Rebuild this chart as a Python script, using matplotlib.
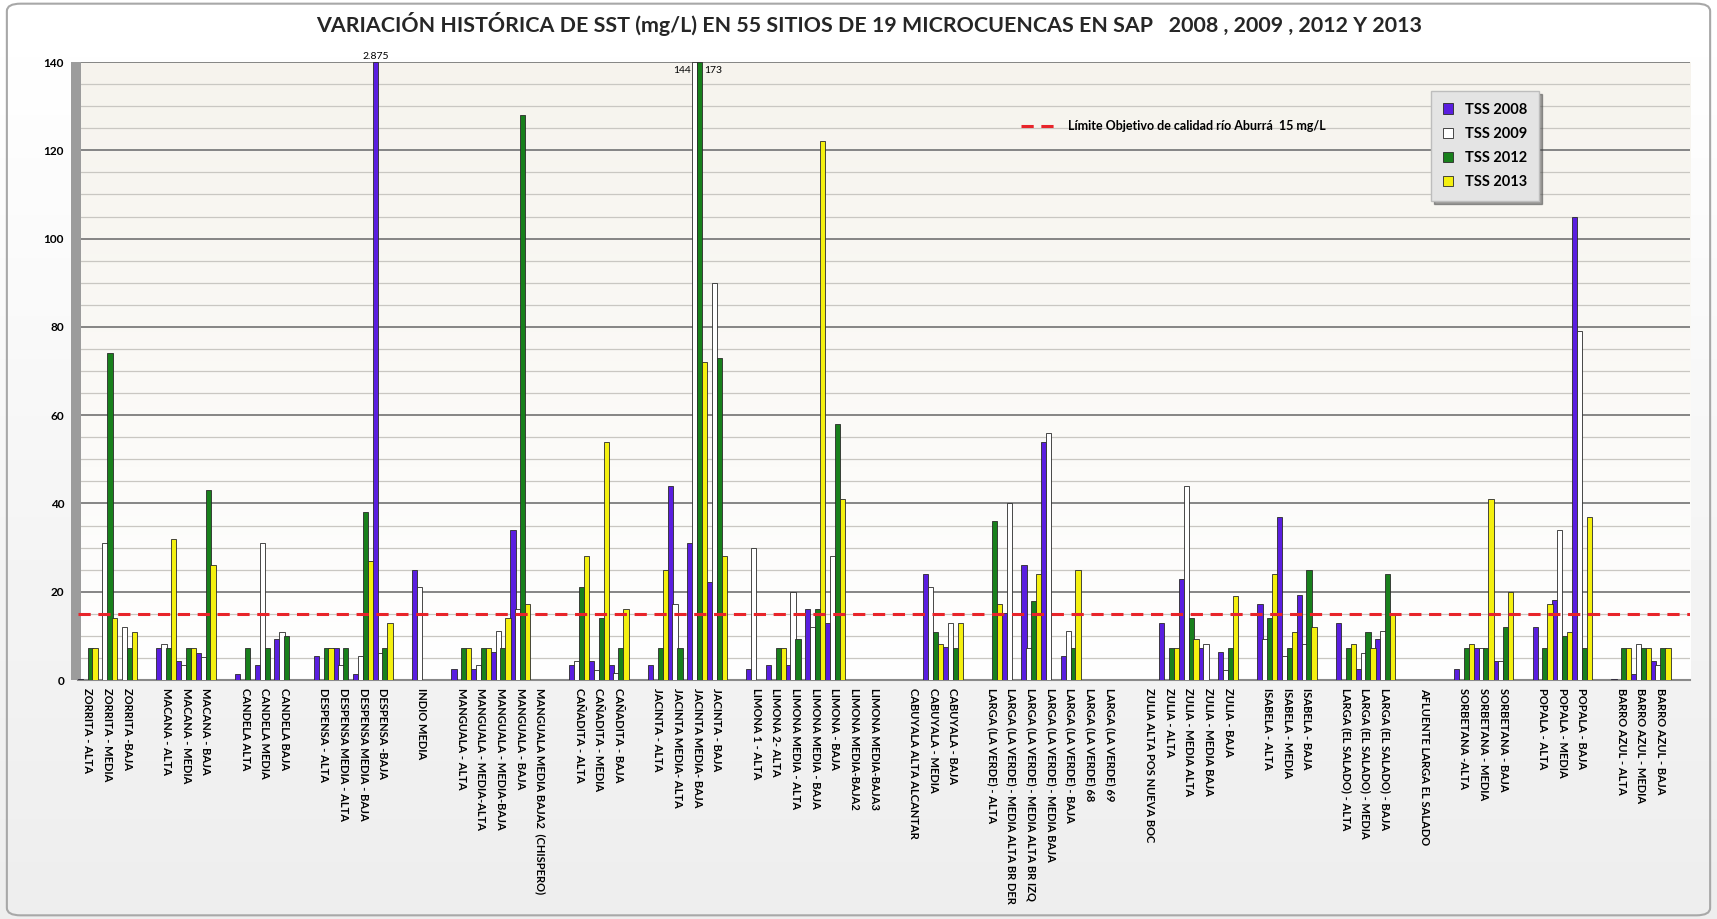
import numpy as np
import matplotlib
matplotlib.use('Agg')
import matplotlib.pyplot as plt
from matplotlib.lines import Line2D
from matplotlib.patches import Rectangle, FancyBboxPatch

# sitios (55 con datos + sitios sin muestra), agrupados por microcuenca
groups = [
    ['ZORRITA - ALTA', 'ZORRITA - MEDIA', 'ZORRITA -BAJA'],
    ['MACANA - ALTA', 'MACANA - MEDIA', 'MACANA - BAJA'],
    ['CANDELA ALTA', 'CANDELA MEDIA', 'CANDELA BAJA'],
    ['DESPENSA - ALTA', 'DESPENSA MEDIA - ALTA', 'DESPENSA MEDIA - BAJA', 'DESPENSA -BAJA'],
    ['INDIO MEDIA'],
    ['MANGUALA - ALTA', 'MANGUALA - MEDIA-ALTA', 'MANGUALA - MEDIA-BAJA', 'MANGUALA - BAJA',
     'MANGUALA MEDIA BAJA2  (CHISPERO)'],
    ['CAÑADITA - ALTA', 'CAÑADITA - MEDIA', 'CAÑADITA - BAJA'],
    ['JACINTA - ALTA', 'JACINTA MEDIA- ALTA', 'JACINTA MEDIA- BAJA', 'JACINTA - BAJA'],
    ['LIMONA 1 - ALTA', 'LIMONA 2- ALTA', 'LIMONA MEDIA - ALTA', 'LIMONA MEDIA - BAJA',
     'LIMONA - BAJA', 'LIMONA MEDIA-BAJA2', 'LIMONA MEDIA-BAJA3'],
    ['CABUYALA ALTA ALCANTAR', 'CABUYALA - MEDIA', 'CABUYALA - BAJA'],
    ['LARGA (LA VERDE) - ALTA', 'LARGA (LA VERDE) - MEDIA ALTA BR DER',
     'LARGA (LA VERDE) - MEDIA ALTA BR IZQ', 'LARGA (LA VERDE) - MEDIA BAJA',
     'LARGA (LA VERDE) - BAJA', 'LARGA (LA VERDE) 68', 'LARGA (LA VERDE) 69'],
    ['ZULIA ALTA POS NUEVA BOC', 'ZULIA - ALTA', 'ZULIA - MEDIA ALTA', 'ZULIA - MEDIA BAJA',
     'ZULIA - BAJA'],
    ['ISABELA - ALTA', 'ISABELA - MEDIA', 'ISABELA - BAJA'],
    ['LARGA (EL SALADO) - ALTA', 'LARGA (EL SALADO) - MEDIA', 'LARGA (EL SALADO) - BAJA'],
    ['AFLUENTE LARGA EL SALADO'],
    ['SORBETANA -ALTA', 'SORBETANA - MEDIA', 'SORBETANA - BAJA'],
    ['POPALA - ALTA', 'POPALA - MEDIA', 'POPALA - BAJA'],
    ['BARRO AZUL - ALTA', 'BARRO AZUL - MEDIA', 'BARRO AZUL - BAJA'],
]

tss_2008 = [0.3, 0, 0, 7.2, 4.3, 6.2, 1.3, 3.4, 9.2,
            5.4, 7.2, 1.3, 2875, 25, 2.4, 2.4, 6.3, 34, 0,
            3.4, 4.3, 3.4, 3.4, 44, 31, 22.2,
            2.4, 3.4, 3.4, 16, 13, 0, 0, 0, 24, 7.5,
            0, 15.1, 26, 54, 5.4, 0, 0, 0, 13, 23, 7.3, 6.3,
            17.2, 37, 19.2, 13, 2.4, 9.2, 0, 2.4, 7.2, 4.3,
            12.1, 18.1, 105, 0.2, 1.3, 4.3]
tss_2009 = [0, 31, 12, 8.2, 3.4, 5.2, 0, 31, 11,
            0, 3.4, 5.4, 6.2, 21, 0, 3.4, 11.2, 16, 0,
            4.3, 2.2, 1.5, 0, 17.2, 144, 90,
            30, 0, 20, 12, 28, 0, 0, 0, 21, 13,
            0, 40, 7.3, 56, 11.2, 0, 0, 0, 0, 44, 8.2, 2.2,
            9.2, 5.4, 8.2, 0, 6.2, 11.2, 0, 0, 7.2, 4.3,
            0, 34, 79, 0, 8.2, 3.4]
tss_2012 = [7.2, 74, 7.2, 7.2, 7.2, 43, 7.2, 7.2, 10,
            7.2, 7.2, 38, 7.2, 0, 7.2, 7.2, 7.2, 128, 0,
            21, 14, 7.2, 7.2, 7.2, 173, 73,
            0, 7.2, 9.2, 16, 58, 0, 0, 0, 11, 7.2,
            36, 0, 18, 0, 7.2, 0, 0, 0, 7.2, 14, 0, 7.2,
            14, 7.2, 25, 7.2, 11, 24, 0, 7.2, 7.2, 12,
            7.2, 10, 7.2, 7.2, 7.2, 7.2]
tss_2013 = [7.2, 14, 11, 32, 7.2, 26, 0, 0, 0,
            7.2, 0, 27, 13, 0, 7.2, 7.2, 14, 17.2, 0,
            28, 54, 16, 25, 0, 72, 28,
            0, 7.2, 0, 122, 41, 0, 0, 0, 8.2, 13,
            17.2, 0, 24, 0, 25, 0, 0, 0, 7.2, 9.2, 0, 19,
            24, 11, 12, 8.2, 7.2, 15, 0, 8.2, 41, 20,
            17.2, 11, 37, 7.2, 7.2, 7.2]

limite = 15
series = [('TSS 2008', tss_2008, '#5a1ee0'), ('TSS 2009', tss_2009, '#ffffff'),
          ('TSS 2012', tss_2012, '#18801c'), ('TSS 2013', tss_2013, '#f4f010')]

# posiciones: un espacio vacio entre microcuencas
labels, xpos = [], []
k = 0
for g in groups:
    for name in g:
        labels.append(name)
        xpos.append(k)
        k += 1
    k += 1
xpos = np.array(xpos)
n_slots = k - 1

plt.rcParams['font.family'] = ['Lato', 'DejaVu Sans']
fig = plt.figure(figsize=(17.17, 9.19), dpi=100, facecolor='#f3f3f3')
# fondo de la figura: blanco arriba, gris claro abajo
bg = fig.add_axes([0, 0, 1, 1], zorder=-20)
bg.imshow(np.linspace(0.93, 1.0, 64).reshape(-1, 1), cmap='gray', vmin=0, vmax=1,
          aspect='auto', extent=[0, 1, 0, 1], origin='lower')
bg.axis('off')
fig.patches.append(FancyBboxPatch((0.004, 0.004), 0.992, 0.992, boxstyle='round,pad=0,rounding_size=0.008',
                                  transform=fig.transFigure, facecolor='none',
                                  edgecolor='#a8a8a8', lw=1.5, zorder=10))
ax = fig.add_axes([0.0454, 0.26, 0.9389, 0.6725])

# fondo del area de trazado: crema arriba, blanco abajo
grad = np.ones((64, 1, 3))
t = np.linspace(0, 1, 64)[:, None]
grad[:, :, 0] = 1.0 - 0.035 * t
grad[:, :, 1] = 1.0 - 0.045 * t
grad[:, :, 2] = 1.0 - 0.07 * t
ax.imshow(grad, aspect='auto', extent=[0, 1, 0, 1], origin='lower', transform=ax.transAxes, zorder=0)

w = 0.25
for i, (name, vals, col) in enumerate(series):
    off = (i - 1.5) * w
    ax.bar(xpos + off, np.minimum(vals, 140), width=w * 1.08, color=col,
           edgecolor='#2a2a2a', linewidth=0.6, label=name, zorder=3)

# valores fuera de escala
for vals, i, ha, dx in [(tss_2008, 0, 'center', 0), (tss_2009, 1, 'right', -3), (tss_2012, 2, 'left', 3)]:
    for x, v in zip(xpos, vals):
        if v > 140:
            txt = f'{v:,}'.replace(',', '.')
            dy = 4 if ha == 'center' else -6
            ax.annotate(txt, (x + (i - 1.5) * w, 140), xytext=(dx, dy), textcoords='offset points',
                        ha=ha, va='center', fontsize=7.5, annotation_clip=False)

ax.axhline(limite, color='#e8242a', ls=(0, (4, 2.5)), lw=2.2, zorder=4)

ax.set_xlim(-0.5, n_slots + 0.5)
ax.set_ylim(0, 140)
ax.set_yticks(np.arange(0, 141, 20))
ax.set_yticks(np.arange(0, 141, 5), minor=True)
ax.grid(axis='y', which='major', color='#7c7c7c', lw=1.3, zorder=1)
ax.grid(axis='y', which='minor', color='#c9c7c2', lw=0.9, zorder=1)
ax.set_axisbelow(True)
ax.tick_params(axis='y', which='both', length=0, labelsize=8.5, pad=10)
for tl in ax.get_yticklabels():
    tl.set_fontweight('bold')

ax.set_xticks(xpos)
ax.set_xticklabels(labels, rotation=270, fontsize=8, fontweight='bold', va='top', ha='center')
ax.tick_params(axis='x', length=0, pad=6)
for s in ['top', 'right', 'left']:
    ax.spines[s].set_visible(False)
ax.spines['bottom'].set_color('#8a8a8a')
ax.spines['bottom'].set_linewidth(1.5)
ax.add_patch(Rectangle((-0.0045, 0), 0.0065, 1, transform=ax.transAxes, facecolor='#9c9c9c',
                       edgecolor='none', clip_on=False, zorder=2))

leg = ax.legend(loc='upper left', bbox_to_anchor=(0.835, 0.965),
                prop={'weight': 'bold', 'size': 10.5}, handlelength=0.7, handleheight=0.7,
                labelspacing=0.7, borderpad=0.8, fancybox=False, shadow=True,
                facecolor='#e4e4e4', edgecolor='#bdbdbd', framealpha=1)
ax.add_artist(leg)
line_h = Line2D([], [], color='#e8242a', ls=(0, (4, 2.5)), lw=2.2)
ax.legend([line_h], ['Límite Objetivo de calidad río Aburrá  15 mg/L'], loc='center left',
          bbox_to_anchor=(0.578, 0.896), frameon=False, handlelength=3.0,
          prop={'weight': 'bold', 'size': 9})

fig.text(0.506, 0.974, 'VARIACIÓN HISTÓRICA DE SST (mg/L) EN 55 SITIOS DE 19 MICROCUENCAS EN SAP   2008 , 2009 , 2012 Y 2013',
         ha='center', va='center', fontsize=15.4, fontweight='bold', color='#262626')

fig.savefig('out.png', dpi=100)
